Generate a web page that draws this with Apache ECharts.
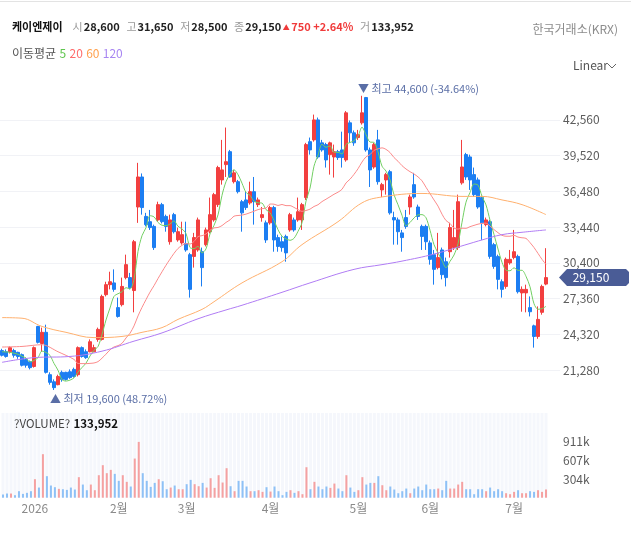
<!DOCTYPE html>
<html><head><meta charset="utf-8">
<script src="https://cdn.jsdelivr.net/npm/echarts@6/dist/echarts.min.js"></script>
<style>html,body{margin:0;padding:0;background:#fff;}#c{width:631px;height:541px;}</style>
</head><body><div id="c"></div>
<script>
// trading days shown (categories)
const monthDays = [
  ['2025-12', [18,19,22,23,24,26,29,30]],
  ['2026-01', [2,5,6,7,8,9,12,13,14,15,16,19,20,21,22,23,26,27,28,29,30]],
  ['2026-02', [2,3,4,5,6,9,10,11,12,13,19,20,23,24,25,26,27]],
  ['2026-03', [3,4,5,6,9,10,11,12,13,16,17,18,19,20,23,24,25,26,27,30,31]],
  ['2026-04', [1,2,3,6,7,8,9,10,13,14,15,16,17,20,21,22,23,24,27,28,29,30]],
  ['2026-05', [4,6,7,8,11,12,13,14,15,18,19,20,21,22,26,27,28,29]],
  ['2026-06', [1,2,4,5,8,9,10,11,12,15,16,17,18,19,22,23,24,25,26,29,30]],
  ['2026-07', [1,2,3,6,7,8,9,10,13]]
];
const monthLabels = {'2026-01':'2026','2026-02':'2월','2026-03':'3월','2026-04':'4월','2026-05':'5월','2026-06':'6월','2026-07':'7월'};
const padCats = ['pad1','pad2','pad3'];

const opens = [22950,22850,22850,22950,22800,22600,22200,22000,21600,25000,
23550,24500,20900,20300,20050,21100,21100,21150,21350,20900,
23200,22850,22850,22850,23900,23900,27700,28550,28700,26600,
26850,29150,29150,28050,35150,37700,34350,33900,33500,34050,
35350,34350,32200,34500,32350,32100,32050,31100,30950,31500,
31350,31950,33050,34050,35350,37450,38750,39850,37300,37300,
35600,35750,35500,36450,35350,34250,33800,33800,35100,32550,
32200,32650,33200,34050,34050,34050,35950,40700,40850,42550,
40600,40450,39600,39400,39850,40000,39150,42300,41450,41050,
42300,44450,40000,38550,40850,36600,37450,38150,34250,34050,
32950,34250,35150,37050,35150,33500,33500,32100,31100,30000,
31500,30500,31350,31700,31700,37200,39600,39400,37900,37450,
35950,33650,33900,31950,30950,28800,28400,30400,30850,30950,
27850,27850,26600,25050,24150,26200,28600];
const closes = [22550,22450,23200,22550,22450,21700,21700,21500,23200,23650,
24500,21100,20250,19800,20750,20500,20500,20650,20750,23200,
22450,22350,23700,23200,24750,27550,28550,28800,28150,25850,
28400,30250,28300,32200,37700,35100,33650,33400,31700,35350,
33900,33500,34050,33050,33050,32800,31500,28150,32550,34050,
30000,33200,34500,36200,38500,38300,39000,37700,38050,36450,
34650,35100,36450,35600,35750,34500,32350,35100,32350,31800,
31700,31250,34500,33200,34750,35350,40450,40000,42550,39400,
40000,39150,40600,39850,39350,39350,43150,41450,40600,41300,
43150,40000,38300,40450,37300,37050,37900,34650,34050,33050,
32550,33500,36000,36000,34350,32650,32200,30700,29850,30850,
29400,29150,33400,32550,35600,38550,37700,37450,36200,35150,
33800,34050,30950,30100,29000,28150,30700,30700,31350,27950,
28150,28150,26250,24150,25600,28400,29150];
const lows = [22450,22350,22700,22350,22250,21600,21500,21350,21500,23550,
22850,21000,20050,19600,20000,20300,20400,20550,20650,20750,
22350,22250,22800,22800,23700,23800,27550,28150,27950,25750,
26700,29000,28150,26200,33800,34500,33500,33200,31500,33900,
33750,33050,31950,32900,32200,31950,31350,27450,30000,31350,
28400,31800,32900,33900,35150,37050,37700,37650,37150,36300,
33050,34900,35350,33650,35150,33900,32100,33650,31350,31350,
31350,30500,33050,33050,33900,33200,35750,39600,40700,39250,
39850,38500,37900,37650,39150,38500,39000,40600,40350,40850,
42150,39850,36850,38400,37050,36000,36200,34500,31950,31950,
31350,33300,34500,35850,34050,31500,31500,30250,28550,29850,
29000,28400,30850,31500,31500,37050,37450,36600,36000,35000,
32350,33500,30750,29900,28150,27450,28200,30250,30700,27800,
26250,26200,25850,23200,23950,26000,28500];
const highs = [23100,23050,23300,23100,22850,22700,22350,22100,23300,25050,
24900,25150,21100,20500,20900,21250,21150,21350,21500,23300,
23300,23050,23900,23450,24900,27700,28800,29650,29850,27450,
29150,31100,29550,32350,38900,38000,34650,34900,33650,35600,
35500,34500,34500,34650,33400,33900,33900,31250,32950,34250,
31700,33400,35950,36350,38650,40850,41900,40000,38300,37450,
35750,36450,37300,37700,35950,35150,34000,35250,35250,32800,
32650,32800,34650,34250,35950,35500,40600,41050,43000,42750,
40850,40600,40700,40450,40000,41550,43300,42500,41650,41700,
44600,44500,40200,40600,41700,37200,38050,38300,34750,34250,
33200,34900,36200,38050,35350,33650,33650,32300,31500,32950,
31700,30850,33800,34900,36200,40850,39750,39600,38500,37650,
36100,34250,34050,32100,31100,29000,30850,31500,33200,31100,
28400,28550,27550,25150,26700,28550,31650];
const volumes = [52000,68000,68000,41000,106000,62000,79000,106000,301000,165000,
708000,350000,198000,171000,144000,138000,127000,165000,133000,334000,
214000,122000,214000,122000,366000,529000,399000,453000,388000,274000,
366000,258000,182000,637000,908000,399000,274000,176000,241000,301000,
268000,138000,165000,198000,138000,138000,220000,290000,220000,187000,
241000,165000,317000,160000,366000,247000,480000,187000,106000,274000,
274000,182000,106000,106000,122000,95000,171000,100000,182000,106000,
41000,95000,122000,79000,106000,57000,496000,138000,258000,182000,
138000,182000,160000,230000,149000,106000,366000,165000,95000,122000,
334000,214000,241000,241000,350000,203000,122000,182000,133000,73000,
106000,149000,73000,149000,182000,122000,214000,138000,138000,149000,
122000,274000,149000,149000,214000,258000,138000,138000,57000,138000,
138000,106000,165000,106000,138000,106000,73000,57000,95000,122000,
73000,73000,106000,95000,122000,95000,133952];

const ma5ReadIdx = [0,2];
const ma5ReadVal = [22850,22800];
const ma20ReadIdx = [0,5,10,14,18];
const ma20ReadVal = [23250,23300,23450,22850,22200];
const ma60ReadIdx = [0,5,10,16,23,30,35,40,44,50,53,60,70,75,84,90,95,105,115,120,125,130,136];
const ma60ReadVal = [25750,25700,25000,24500,24050,24150,24500,24900,25600,26450,27100,28700,30500,31950,33900,35500,36000,36300,36050,36050,35750,35350,34500];
const ma120ReadIdx = [0,8,17,25,33,40,49,56,60,70,77,88,95,100,108,117,120,125,130,136];
const ma120ReadVal = [21950,22350,22450,22900,23750,24450,25650,26400,26800,27900,28700,29850,30250,30550,31150,32050,32350,32800,33000,33200];

const priceTicks = {min:18240, max:45600, interval:3040};
const volTicks = {max:1378000, interval:303667};

// ---- build
const dates = [];
const monthFirst = {};
monthDays.forEach(([m, ds]) => {
  ds.forEach((d, k) => {
    const s = m + '-' + String(d).padStart(2,'0');
    if (k === 0 && monthLabels[m]) monthFirst[s] = monthLabels[m];
    dates.push(s);
  });
});
const cats = dates.concat(padCats);
const N = dates.length;

const candle = dates.map((d,i)=>[opens[i], closes[i], lows[i], highs[i]]);
function sma(n, i){ let s=0; for(let k=i-n+1;k<=i;k++) s+=closes[k]; return Math.round(s/n); }
const ma5 = ma5ReadIdx.map((k,j)=>[k, ma5ReadVal[j]]);
for (let i=4;i<N;i++) ma5.push([i, sma(5,i)]);
const ma20 = ma20ReadIdx.map((k,j)=>[k, ma20ReadVal[j]]);
for (let i=19;i<N;i++) ma20.push([i, sma(20,i)]);
const ma60 = ma60ReadIdx.map((k,j)=>[k, ma60ReadVal[j]]);
const ma120 = ma120ReadIdx.map((k,j)=>[k, ma120ReadVal[j]]);

const UP='#f23f3f', DOWN='#1c7ef2';
const volData = volumes.map((v,i)=>({value:v, itemStyle:{color: closes[i]>=opens[i] ? '#f5a1a1' : '#8ec1f6'}}));
const bgData = dates.map(()=>volTicks.max);

const FONT = '"Noto Sans CJK KR", "Noto Sans", sans-serif';
const fmt = v => v.toLocaleString('en-US');

const gridLineColors = [];
for (let t=priceTicks.min;t<=priceTicks.max;t+=priceTicks.interval) gridLineColors.push((t===priceTicks.min||t===priceTicks.max)?'rgba(0,0,0,0)':'#f1f2f6');

const chart = echarts.init(document.getElementById('c'), null, {renderer:'canvas'});
chart.setOption({
  animation:false,
  textStyle:{fontFamily:FONT},
  grid:[
    {left:0, right:71, top:84, height:322},
    {left:0, right:71, top:413, height:84.7}
  ],
  xAxis:[
    {type:'category', gridIndex:0, data:cats, boundaryGap:true, axisLine:{show:false}, axisTick:{show:false}, axisLabel:{show:false}, splitLine:{show:false}},
    {type:'category', gridIndex:1, data:cats, boundaryGap:true, axisLine:{show:false}, axisTick:{show:false}, splitLine:{show:false},
      axisLabel:{interval:0, color:'#8a8a8a', fontSize:12, margin:5, fontFamily:FONT, formatter:(v)=>monthFirst[v]||''}},
    {type:'category', gridIndex:1, data:cats, boundaryGap:true, show:false}
  ],
  yAxis:[
    {type:'value', gridIndex:0, position:'right', min:priceTicks.min, max:priceTicks.max, interval:priceTicks.interval,
      axisLine:{show:false}, axisTick:{show:false},
      axisLabel:{showMinLabel:false, showMaxLabel:false, color:'#5c5c5c', fontSize:12, margin:3, fontFamily:FONT, formatter:v=>fmt(v)},
      splitLine:{show:true, lineStyle:{color:gridLineColors, width:1}}},
    {type:'value', gridIndex:1, position:'right', min:0, max:volTicks.max, interval:volTicks.interval,
      axisLine:{show:false}, axisTick:{show:false}, splitLine:{show:false},
      axisLabel:{color:'#5c5c5c', fontSize:12, margin:3, fontFamily:FONT, formatter:v=> (v<=0||v>1000000)?'':Math.round(v/1000)+'k'}}
  ],
  series:[
    {type:'candlestick', name:'price', xAxisIndex:0, yAxisIndex:0, data:candle, barWidth:3,
      itemStyle:{color:UP, color0:DOWN, borderColor:UP, borderColor0:DOWN, borderWidth:1}},
    {type:'line', name:'MA5', data:ma5, xAxisIndex:0, yAxisIndex:0, showSymbol:false, smooth:0.3, lineStyle:{color:'#72cf63', width:1}, z:3},
    {type:'line', name:'MA20', data:ma20, xAxisIndex:0, yAxisIndex:0, showSymbol:false, smooth:0.3, lineStyle:{color:'#fb8b8b', width:1}, z:3},
    {type:'line', name:'MA60', data:ma60, xAxisIndex:0, yAxisIndex:0, showSymbol:false, smooth:0.4, lineStyle:{color:'#ffb06e', width:1}, z:3},
    {type:'line', name:'MA120', data:ma120, xAxisIndex:0, yAxisIndex:0, showSymbol:false, smooth:0.4, lineStyle:{color:'#b07cf4', width:1}, z:3},
    {type:'bar', name:'bg', data:bgData, xAxisIndex:2, yAxisIndex:1, barWidth:3, silent:true, itemStyle:{color:'#f5f7fc'}, z:1},
    {type:'bar', name:'volume', data:volData, xAxisIndex:1, yAxisIndex:1, barWidth:2, z:2}
  ]
});

// annotations
const hiIdx = highs.indexOf(Math.max(...highs));
const loIdx = lows.indexOf(Math.min(...lows));
const last = closes[N-1];
const hiV = highs[hiIdx], loV = lows[loIdx];
const hiPct = ((last-hiV)/hiV*100).toFixed(2);
const loPct = ((last-loV)/loV*100).toFixed(2);
const pHi = chart.convertToPixel({xAxisIndex:0,yAxisIndex:0},[hiIdx,hiV]);
const pLo = chart.convertToPixel({xAxisIndex:0,yAxisIndex:0},[loIdx,loV]);
const pLast = chart.convertToPixel({xAxisIndex:0,yAxisIndex:0},[N-1,last]);
const annColor = '#5a6ea6';
const tx0 = 559, tx1 = 629, th = 8.5, ty = pLast[1];
const chg = last-closes[N-2];

chart.setOption({graphic:[
  {type:'rect', z:100, shape:{x:0,y:1,width:631,height:1}, style:{fill:'#e3e3e3'}, silent:true},
  {type:'text', z:100, left:12, top:21, style:{
    text:'{n|케이엔제이}   {g|시}{v|'+fmt(opens[N-1])+'}  {g|고}{v|'+fmt(highs[N-1])+'}  {g|저}{v|'+fmt(lows[N-1])+'}  {g|종}{v|'+fmt(last)+'}{rs| ▲ }{r|'+fmt(chg)+' +'+(chg/closes[N-2]*100).toFixed(2)+'%}  {g|거}{v|'+fmt(volumes[N-1])+'}',
    rich:{
      n:{fontFamily:FONT, fontSize:11, fontWeight:'bold', fill:'#111'},
      g:{fontFamily:FONT, fontSize:11, fill:'#9a9a9a', padding:[0,1,0,0]},
      v:{fontFamily:FONT, fontSize:11, fontWeight:'bold', fill:'#222'},
      rs:{fontFamily:FONT, fontSize:7, fill:'#f03a3a'},
      r:{fontFamily:FONT, fontSize:11, fontWeight:'bold', fill:'#f03a3a'}
    }}},
  {type:'text', z:100, right:13, top:23, style:{text:'한국거래소(KRX)', font:'12px '+FONT, fill:'#8c8c8c'}},
  {type:'text', z:100, left:12, top:47, style:{
    text:'{g|이동평균} {a|5} {b|20} {c|60} {d|120}',
    rich:{
      g:{fontFamily:FONT, fontSize:12, fill:'#555'},
      a:{fontFamily:FONT, fontSize:12, fill:'#5fc64e'},
      b:{fontFamily:FONT, fontSize:12, fill:'#ff6b6b'},
      c:{fontFamily:FONT, fontSize:12, fill:'#ffa04d'},
      d:{fontFamily:FONT, fontSize:12, fill:'#a886f2'}
    }}},
  {type:'text', z:100, left:573, top:59, style:{text:'Linear', font:'12px '+FONT, fill:'#555'}},
  {type:'polyline', z:100, shape:{points:[[608,64],[612,68],[616,64]]}, style:{stroke:'#666', lineWidth:1, fill:null}},
  {type:'text', z:100, x:pHi[0]-4, y:pHi[1]-7, style:{text:'▼ 최고 '+fmt(hiV)+' ('+hiPct+'%)', font:'11px '+FONT, fill:annColor, verticalAlign:'middle', align:'left'}},
  {type:'text', z:100, x:pLo[0]-4, y:pLo[1]+9, style:{text:'▲ 최저 '+fmt(loV)+' ('+loPct+'%)', font:'11px '+FONT, fill:annColor, verticalAlign:'middle', align:'left'}},
  {type:'polygon', z:100, shape:{points:[[tx0,ty],[tx0+8,ty-th],[tx1-3,ty-th],[tx1,ty-th+3],[tx1,ty+th-3],[tx1-3,ty+th],[tx0+8,ty+th]]}, style:{fill:'#4a5c96'}},
  {type:'text', z:101, x:591, y:ty, style:{text:fmt(last), font:'12px '+FONT, fill:'#fff', align:'center', verticalAlign:'middle'}},
  {type:'text', z:100, left:14, top:418, style:{
    text:'{g|?VOLUME?} {v|'+fmt(volumes[N-1])+'}',
    rich:{
      g:{fontFamily:FONT, fontSize:11.5, fill:'#444'},
      v:{fontFamily:FONT, fontSize:11.5, fontWeight:'bold', fill:'#111'}
    }}}
]});
</script>
</body></html>
